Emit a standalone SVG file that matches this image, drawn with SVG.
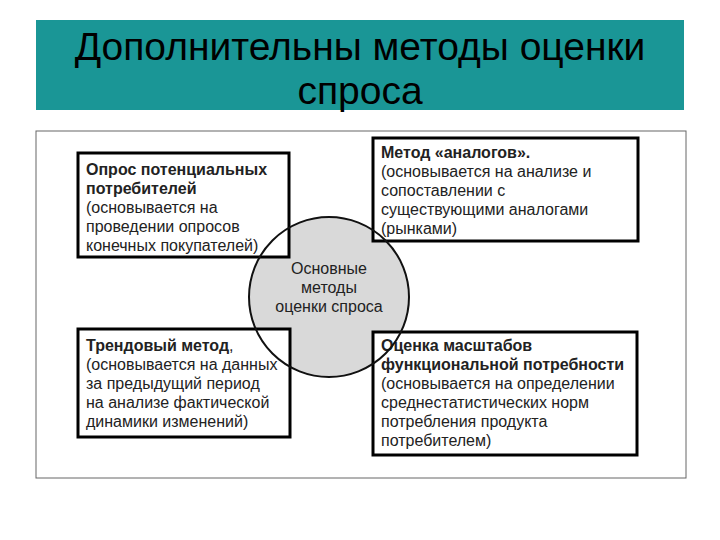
<svg xmlns="http://www.w3.org/2000/svg" width="720" height="540" viewBox="0 0 720 540">
<style>
.t{font-family:"Liberation Sans",Arial,sans-serif;font-size:16px;fill:#222}
.b{font-weight:bold}
.box{fill:#fff;stroke:#000;stroke-width:3}
.ttl{font-family:"Liberation Sans",Arial,sans-serif;font-size:39px;fill:#000;text-anchor:middle}
</style>
<rect x="0" y="0" width="720" height="540" fill="#fff"/>
<rect x="36" y="20" width="648" height="90" fill="#1a9696"/>
<text class="ttl" x="360" y="60">Дополнительны методы оценки</text>
<text class="ttl" x="360" y="104">спроса</text>
<rect x="36" y="131" width="650" height="347" fill="#fff" stroke="#666" stroke-width="1"/>
<g id="center">
<circle cx="329" cy="297" r="80" fill="#d9d9d9"/>
</g>
<g id="tl">
<rect class="box" x="78" y="153" width="211" height="104"/>
<text class="t" x="86" y="175"><tspan class="b">Опрос потенциальных</tspan><tspan class="b" x="86" dy="19">потребителей</tspan><tspan x="86" dy="19">(основывается на</tspan><tspan x="86" dy="19">проведении опросов</tspan><tspan x="86" dy="19">конечных покупателей)</tspan></text>
</g>
<g id="tr">
<rect class="box" x="373" y="138" width="265" height="103"/>
<text class="t" x="381" y="158"><tspan class="b">Метод «аналогов».</tspan><tspan x="381" dy="19">(основывается на анализе и</tspan><tspan x="381" dy="19">сопоставлении с</tspan><tspan x="381" dy="19">существующими аналогами</tspan><tspan x="381" dy="19">(рынками)</tspan></text>
</g>
<g id="bl">
<rect class="box" x="78" y="329" width="212" height="108"/>
<text class="t" x="86" y="351"><tspan class="b">Трендовый метод</tspan>,<tspan x="86" dy="19">(основывается на данных</tspan><tspan x="86" dy="19">за предыдущий период</tspan><tspan x="86" dy="19">на анализе фактической</tspan><tspan x="86" dy="19">динамики изменений)</tspan></text>
</g>
<g id="br">
<rect class="box" x="373" y="332" width="264" height="123"/>
<text class="t" x="381" y="351"><tspan class="b">Оценка масштабов</tspan><tspan class="b" x="381" dy="19">функциональной потребности</tspan><tspan x="381" dy="19">(основывается на определении</tspan><tspan x="381" dy="19">среднестатистических норм</tspan><tspan x="381" dy="19">потребления продукта</tspan><tspan x="381" dy="19">потребителем)</tspan></text>
</g>
<g id="center-label">
<circle cx="329" cy="297" r="80" fill="none" stroke="#111" stroke-width="2"/>
<text class="t" text-anchor="middle" fill="#333"><tspan x="329" y="274">Основные</tspan><tspan x="329" dy="19">методы</tspan><tspan x="329" dy="19">оценки спроса</tspan></text>
</g>
</svg>
